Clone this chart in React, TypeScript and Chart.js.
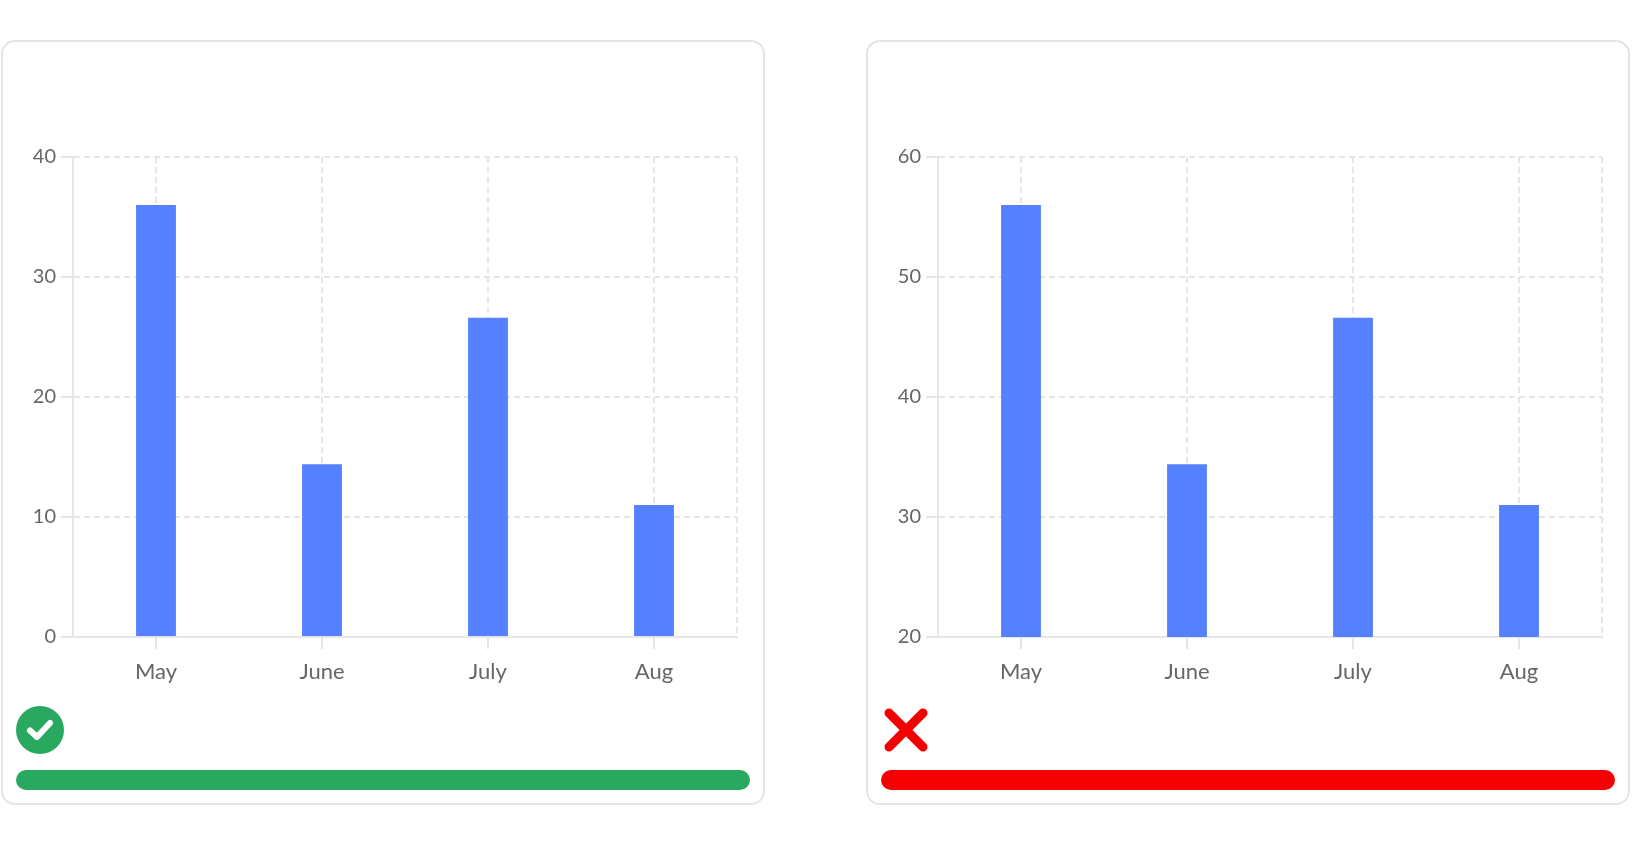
import { useEffect, useRef } from "react";
import Chart from "chart.js/auto";

const months = ["May", "June", "July", "Aug"];
const goodValues = [36, 14.4, 26.6, 11];
const badValues = [56, 34.4, 46.6, 31];
const goodTicks = { min: 0, max: 40 };
const badTicks = { min: 20, max: 60 };

const GRID = "#e6e6e6";

// dashed line along the right edge of the plot area
const rightEdge = {
  id: "rightEdge",
  beforeDatasetsDraw(chart: any) {
    const { ctx, chartArea } = chart;
    ctx.save();
    ctx.strokeStyle = GRID;
    ctx.lineWidth = 2;
    ctx.setLineDash([6, 4]);
    ctx.beginPath();
    ctx.moveTo(chartArea.right, chartArea.top);
    ctx.lineTo(chartArea.right, chartArea.bottom);
    ctx.stroke();
    ctx.restore();
  },
};

function BarChart({ values, min, max }: { values: number[]; min: number; max: number }) {
  const ref = useRef<HTMLCanvasElement | null>(null);

  useEffect(() => {
    if (!ref.current) return;
    const ctx = ref.current.getContext("2d");
    if (!ctx) return;

    const chart = new Chart(ctx, {
      type: "bar",
      data: {
        labels: months,
        datasets: [
          {
            data: values,
            backgroundColor: "#5580ff",
            barPercentage: 0.3,
            categoryPercentage: 0.8,
          },
        ],
      },
      options: {
        animation: false,
        responsive: true,
        maintainAspectRatio: false,
        layout: { padding: { top: 55, right: 26, left: 0, bottom: 0 } },
        plugins: { legend: { display: false }, tooltip: { enabled: false } },
        scales: {
          x: {
            afterFit: (s: any) => { s.height = 65; },
            grid: {
              offset: false,
              color: GRID,
              lineWidth: 2,
              tickLength: 12,
              tickColor: GRID,
              tickWidth: 2,
            },
            border: { color: GRID, width: 2, dash: [6, 4] },
            ticks: { color: "#666", padding: 10, font: { family: "Lato", size: 22 } },
          },
          y: {
            min,
            max,
            afterFit: (s: any) => { s.width = 70; },
            grid: {
              color: GRID,
              lineWidth: 2,
              tickLength: 12,
              tickColor: GRID,
              tickWidth: 2,
            },
            border: { color: GRID, width: 2, dash: [6, 4] },
            ticks: { stepSize: 10, color: "#666", padding: 5, font: { family: "Lato", size: 20 } },
          },
        },
      },
      plugins: [rightEdge],
    });

    return () => chart.destroy();
  }, [values, min, max]);

  return (
    <div style={{ position: "absolute", left: 0, top: 60, width: 760, height: 600 }}>
      <canvas ref={ref} />
    </div>
  );
}

function Card({ left, good, children }: { left: number; good: boolean; children: any }) {
  const color = good ? "#29a960" : "#f50000";
  return (
    <div
      style={{
        position: "absolute",
        left,
        top: 40,
        width: 764,
        height: 765,
        boxSizing: "border-box",
        border: "2px solid #e4e4e4",
        borderRadius: 14,
        background: "#fff",
      }}
    >
      {children}
      {good ? (
        <svg style={{ position: "absolute", left: 13, top: 664 }} width={48} height={48} viewBox="0 0 48 48">
          <circle cx={24} cy={24} r={24} fill={color} />
          <path d="M14 24.5 L21 31 L34 17" stroke="#fff" strokeWidth={6} fill="none" strokeLinecap="round" strokeLinejoin="round" />
        </svg>
      ) : (
        <svg style={{ position: "absolute", left: 15, top: 665 }} width={46} height={46} viewBox="0 0 46 46">
          <path d="M6 6 L40 40 M40 6 L6 40" stroke={color} strokeWidth={9} strokeLinecap="round" />
        </svg>
      )}
      <div
        style={{
          position: "absolute",
          left: 13,
          top: 728,
          width: 734,
          height: 20,
          borderRadius: 10,
          background: color,
        }}
      />
    </div>
  );
}

export default function App() {
  return (
    <div style={{ position: "fixed", left: 0, top: 0, width: 1632, height: 846, background: "#fff", fontFamily: "Lato" }}>
      <Card left={1} good={true}>
        <BarChart values={goodValues} min={goodTicks.min} max={goodTicks.max} />
      </Card>
      <Card left={866} good={false}>
        <BarChart values={badValues} min={badTicks.min} max={badTicks.max} />
      </Card>
    </div>
  );
}
